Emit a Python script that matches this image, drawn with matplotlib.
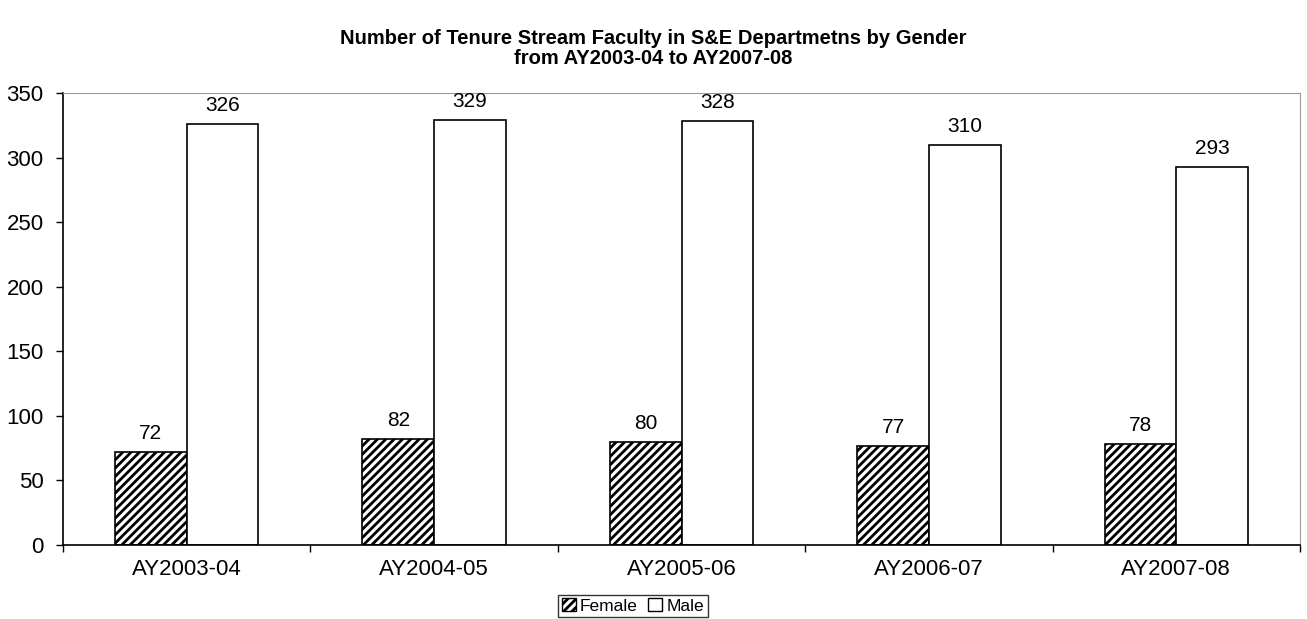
import numpy as np
import matplotlib.pyplot as plt
from matplotlib.patches import Patch

plt.rcParams['font.family'] = ['Liberation Sans', 'DejaVu Sans']
plt.rcParams['hatch.linewidth'] = 2.0

years = ['AY2003-04', 'AY2004-05', 'AY2005-06', 'AY2006-07', 'AY2007-08']
female = [72, 82, 80, 77, 78]
male = [326, 329, 328, 310, 293]

fig = plt.figure(figsize=(13.07, 6.19), dpi=100)
ax = fig.add_axes([63 / 1307, 1 - 545 / 619, (1300 - 63) / 1307, (545 - 93) / 619])

x = np.arange(len(years))
w = 0.29
fb = ax.bar(x - w / 2, female, w, color='white', edgecolor='black', hatch='////', linewidth=1.2)
mb = ax.bar(x + w / 2, male, w, color='white', edgecolor='black', linewidth=1.2)

# value labels above bars
for b, v in zip(fb, female):
    ax.text(b.get_x() + b.get_width() / 2, v + 7, str(v), ha='center', va='bottom', fontsize=15)
for b, v in zip(mb, male):
    ax.text(b.get_x() + b.get_width() / 2, v + 7, str(v), ha='center', va='bottom', fontsize=15)

ax.set_xlim(-0.5, len(years) - 0.5)
ax.set_ylim(0, 350)
ax.set_yticks(range(0, 351, 50))
ax.tick_params(axis='y', labelsize=16, length=5, width=1, direction='out', pad=9)
ax.set_xticks(x)
ax.set_xticklabels(years, fontsize=16)
ax.tick_params(axis='x', length=0, pad=10)
ax.set_xticks(np.arange(-0.5, len(years), 1), minor=True)
ax.tick_params(axis='x', which='minor', length=5, width=1, direction='out')

ax.spines['top'].set_color('#999999')
ax.spines['right'].set_color('#999999')
ax.spines['left'].set_linewidth(1.2)
ax.spines['bottom'].set_linewidth(1.2)

fig.text(0.5, 1 - 39 / 619, 'Number of Tenure Stream Faculty in S&E Departmetns by Gender',
         ha='center', va='center', fontsize=14.5, fontweight='bold')
fig.text(0.5, 1 - 59 / 619, 'from AY2003-04 to AY2007-08',
         ha='center', va='center', fontsize=14.5, fontweight='bold')

handles = [Patch(facecolor='white', edgecolor='black', hatch='////'),
           Patch(facecolor='white', edgecolor='black')]
leg = fig.legend(handles, ['Female', 'Male'], loc='center', bbox_to_anchor=(633 / 1307, 1 - 606 / 619),
                 ncol=2, fontsize=12.5, frameon=True, fancybox=False, handlelength=0.8, handleheight=0.8,
                 handletextpad=0.25, columnspacing=0.6, borderpad=0.2, borderaxespad=0)
leg.get_frame().set_edgecolor('black')
leg.get_frame().set_linewidth(1)

fig.savefig('out.png', dpi=100)
